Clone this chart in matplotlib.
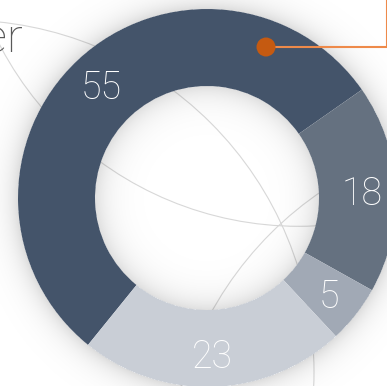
import numpy as np
import matplotlib
matplotlib.use("Agg")
import matplotlib.pyplot as plt
from matplotlib.patches import Circle

# data
categories = ["A", "B", "C", "D"]
values = [55, 18, 5, 23]
colors = ["#44546a", "#657180", "#a1a9b5", "#c9ced6"]
label_texts = [str(v) for v in values]
title_text = "er"

W, H = 387, 386
fig = plt.figure(figsize=(W / 100, H / 100), dpi=100)
ax = fig.add_axes([0, 0, 1, 1])
fig.patch.set_facecolor("white")

cx, cy = 207, H - 198
r_out, r_in = 189, 112

# background arcs
for (ax_c, ay_c, rr) in [(-38, H - 372, 352), (298.6, H + 110.7, 337), (518, H - 481, 350)]:
    ax.add_patch(Circle((ax_c, ay_c), rr, fill=False, ec="#d8d8d8", lw=0.8, zorder=1))

# soft shadow
yy, xx = np.mgrid[0:H, 0:W]
d = np.hypot(xx + 0.5 - cx, (H - yy - 0.5) - cy)
alpha = np.zeros_like(d)
outer = d > r_out
alpha[outer] = 0.14 * np.exp(-(d[outer] - r_out) / 12.0)
inner = d < r_in
alpha[inner] = 0.13 * np.exp(-(r_in - d[inner]) / 14.0)
img = np.zeros((H, W, 4))
img[..., 3] = alpha
ax.imshow(img, extent=(0, W, 0, H), origin="upper", zorder=2, interpolation="bilinear")

font = ["Roboto", "DejaVu Sans"]
wedges, texts = ax.pie(
    values, colors=colors, startangle=231, counterclock=False,
    radius=r_out, center=(cx, cy),
    wedgeprops=dict(width=r_out - r_in, linewidth=0),
    labels=label_texts, labeldistance=0.82,
    textprops=dict(color="white", fontsize=27, family=font, fontweight="light"),
)
for w in wedges:
    w.set_zorder(3)
for t in texts:
    t.set_ha("center")
    t.set_va("center_baseline")
    t.set_zorder(4)

# title fragment
ax.text(23, H - 52, title_text, color="#595959", fontsize=34,
        family=font, fontweight="light",
        ha="right", va="baseline", zorder=5)

# leader line and dot
ax.plot([266, 386.5, 386.5], [H - 47, H - 47, H + 5], color="#ee8a4a", lw=1.5,
        zorder=5, solid_joinstyle="miter")
ax.add_patch(Circle((266, H - 47), 9.5, color="#c55a11", zorder=6, lw=0))

ax.set_xlim(0, W)
ax.set_ylim(0, H)
ax.set_aspect("auto")
ax.axis("off")

fig.savefig("out.png", dpi=100, facecolor="white")
